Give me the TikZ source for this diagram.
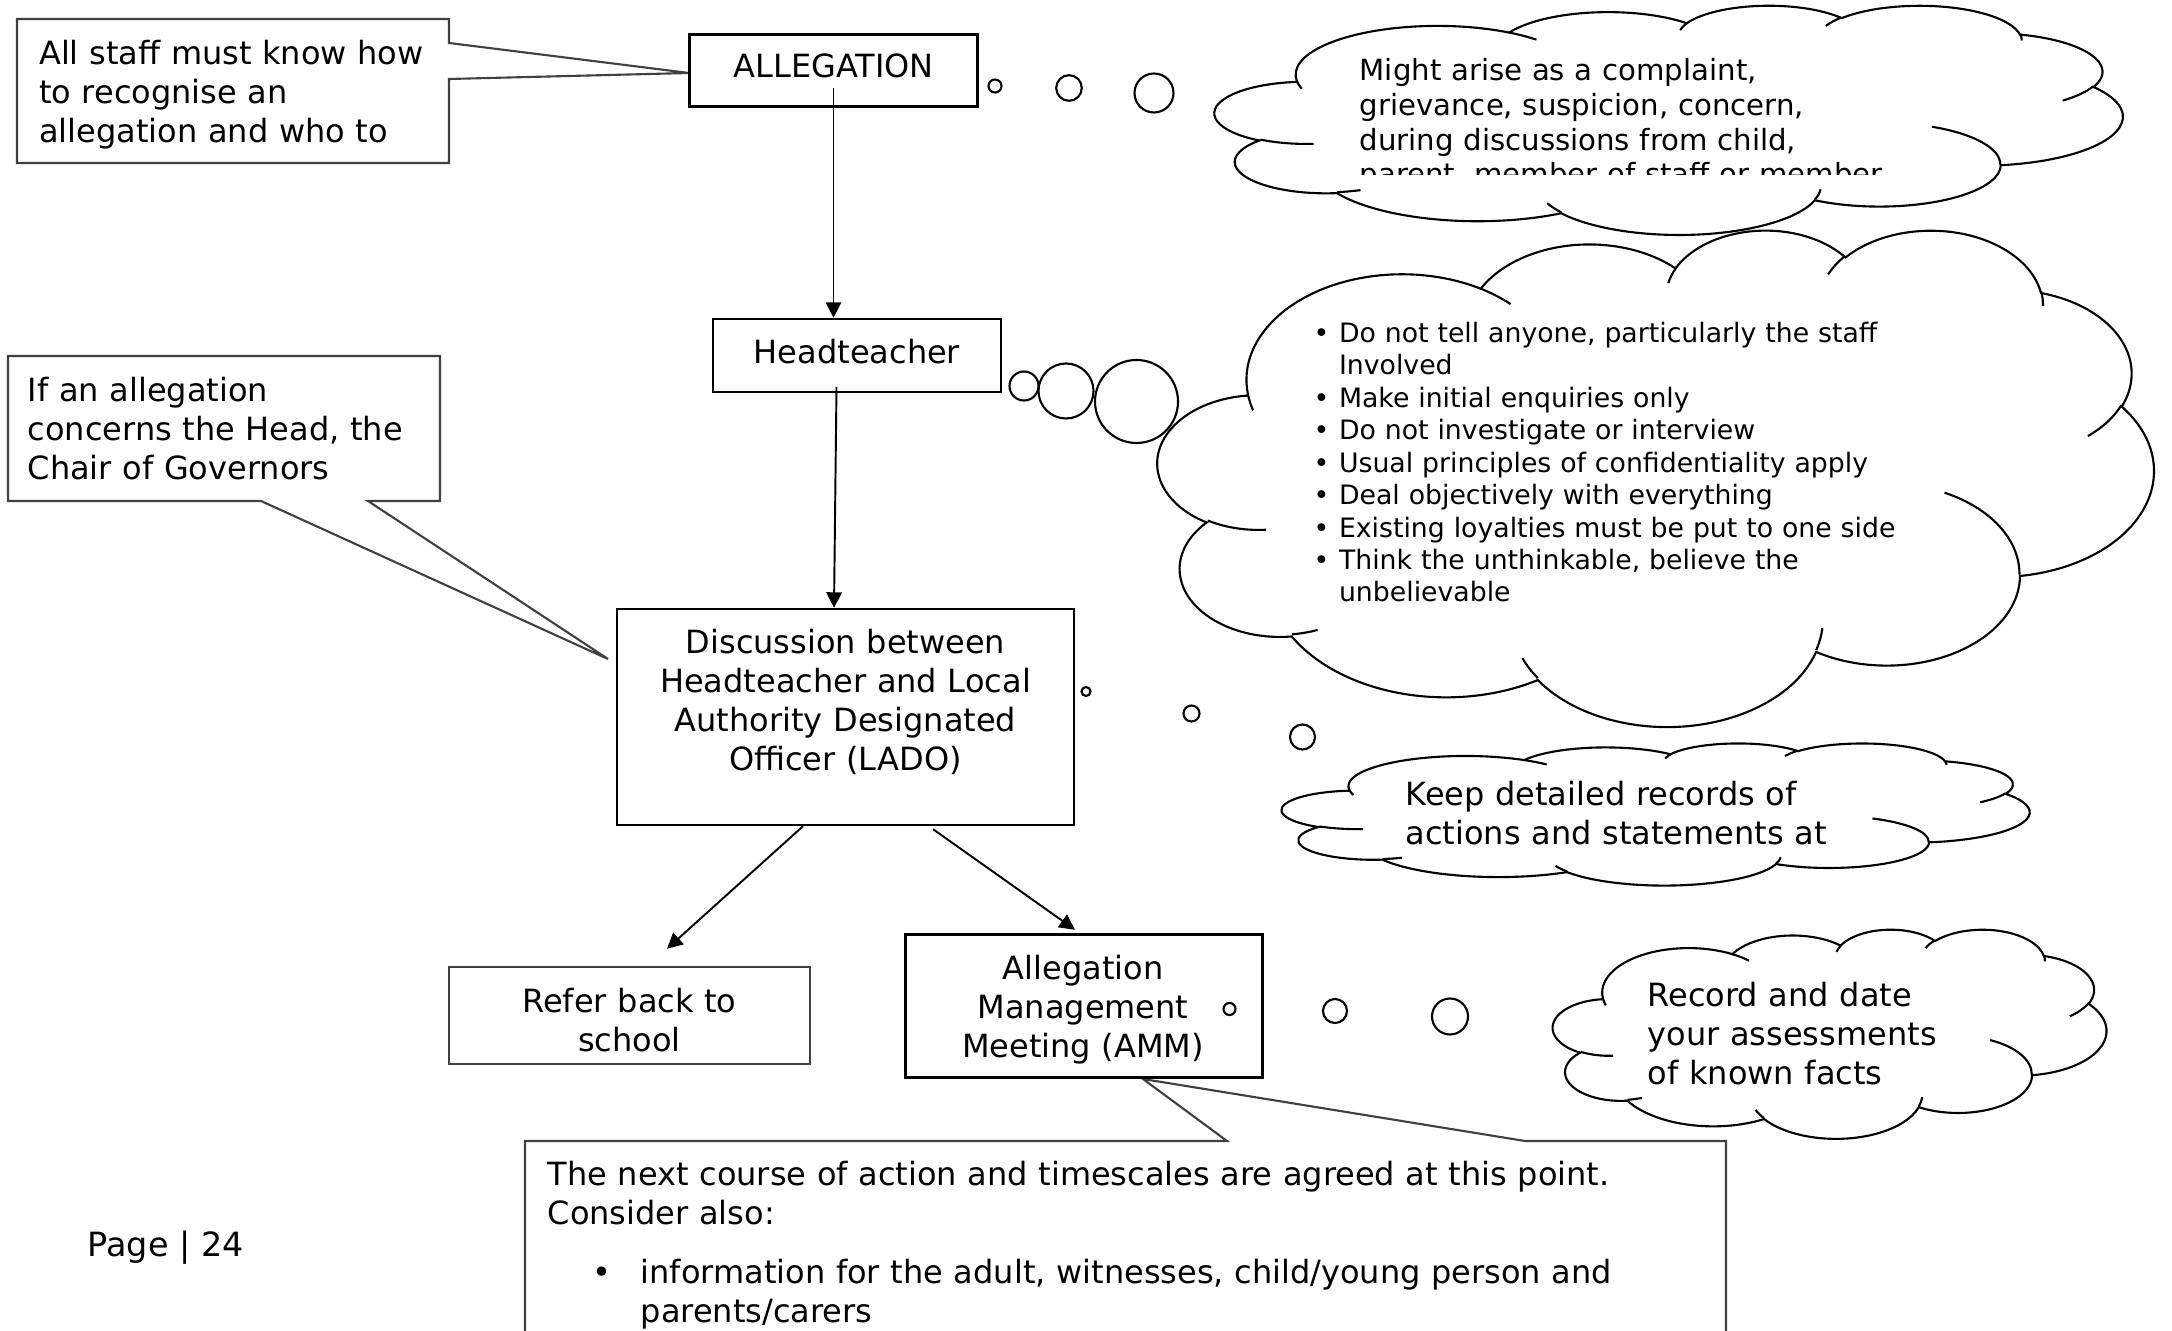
\documentclass[tikz,border=0pt]{standalone}
\usepackage{fontspec}
\setmainfont{DejaVu Sans}
\usetikzlibrary{arrows.meta,fit}
\definecolor{cgray}{RGB}{64,64,64}
\pgfmathdeclarefunction{vang}{3}{\pgfmathparse{atan2((#1)*sin(#3),(#2)*cos(#3))}}
\pgfmathdeclarefunction{vdel}{4}{\pgfmathparse{mod(vang(#1,#2,(#3)+(#4))-vang(#1,#2,#3)+720,360)}}
\newcommand\warc[4]{arc[x radius=#1,y radius=#2,start angle={vang(#1,#2,#3)},delta angle={vdel(#1,#2,#3,#4)}]}
\newcommand\wordcloud[4]{%
\begin{scope}[shift={(#1,#2)},x=#3,y=#4]
\draw[cloudline] (39.00,143.70)
 \warc{67.53}{91.90}{-190.48748}{123.78053}
 \warc{53.33}{72.67}{-144.10238}{89.94523}
 \warc{43.65}{59.45}{-145.80792}{99.72302}
 \warc{48.57}{65.95}{-130.98607}{117.24173}
 \warc{53.33}{72.73}{-78.70888}{109.02692}
 \warc{67.75}{92.20}{-46.26725}{130.269}
 \warc{57.85}{78.67}{0.62502}{114.03333}
 \warc{67.52}{92.15}{22.4516}{115.17255}
 \warc{77.20}{105.43}{66.24263}{75.71102}
 \warc{43.60}{59.18}{-274.94208}{146.73557}
 \warc{43.45}{59.45}{-246.8285}{152.51885} -- cycle;
\draw[cloudline]
 (46.93,261.77) \warc{43.45}{59.45}{86.742}{26.4295}
 (69.28,348.99) \warc{43.60}{59.18}{73.61047}{11.44747}
 (164.78,390.90) \warc{67.52}{92.15}{137.62415}{14.0811}
 (288.27,347.51) \warc{67.52}{92.15}{6.45327}{15.99835}
 (341.29,229.54) \warc{57.85}{78.67}{-70.29235}{70.91737}
 (417.98,153.54) \warc{53.33}{72.73}{30.31803}{27.7515}
 (383.24,54.26) \warc{48.57}{65.95}{-13.74433}{14.8589}
 (290.78,39.52) \warc{48.57}{65.95}{-149.18145}{18.19537}
 (221.41,47.20) \warc{43.65}{59.45}{-163.49427}{17.68635}
 (140.00,51.92) \warc{67.53}{91.90}{-66.70695}{12.31935}
 (41.27,157.89) \warc{67.53}{91.90}{157.65435}{11.85817};
\end{scope}}
\newcommand\bul{\makebox[7.2pt][l]{•}}
\newcommand\ind{\hspace*{7.2pt}}
\begin{document}
\begin{tikzpicture}[x=0.01cm,y=-0.01cm,
  box/.style={draw=black,line width=0.7pt,inner sep=0pt},
  gbox/.style={draw=cgray,line width=0.7pt,inner sep=0pt},
  callout/.style={draw=cgray,line width=0.6pt,line join=miter},
  cloudline/.style={draw=black,line width=0.6pt},
  bubble/.style={draw=black,line width=0.6pt},
  arr/.style={draw=black,line width=0.55pt,-{Triangle[length=4.4pt,width=4.4pt]}},
  txt/.style={inner sep=0pt,font=\fontsize{9.1}{11.04}\selectfont},
  tl/.style={txt,anchor=base west,align=left,text width=#1},
  tc/.style={txt,anchor=base,align=center,text width=#1}]
\useasboundingbox (0,0) rectangle (2172,1331);
\clip (0,0) rectangle (2172,1331);

% callouts
\draw[callout] (17,19) -- (449,19) -- (449,43) -- (689,73) -- (449,79) -- (449,163) -- (17,163) -- cycle;
\draw[callout] (8,356) -- (440,356) -- (440,501) -- (368,501) -- (608,659) -- (261,501) -- (8,501) -- cycle;
\draw[callout] (525,1345) -- (525,1141) -- (1227,1141) -- (1143,1079) -- (1525,1141) -- (1726,1141) -- (1726,1345);

% boxes
\node[box,fit={(689.5,34.5) (977.5,106.5)}] (alleg) {};
\node[box,fit={(713,319) (1001,392)}] (head) {};
\node[box,fit={(617,609) (1074,825)}] (lado) {};
\node[gbox,fit={(449,967) (810,1064)}] (refer) {};
\node[box,fit={(905.5,934.5) (1262.5,1077.5)}] (amm) {};

% connectors
\coordinate (a1) at (833.5,88);
\coordinate (h1) at (836.5,387);
\draw[arr] (a1) -- (a1 |- head.north);
\draw[arr] (h1) -- ([xshift=-3.27pt]lado.north);
\draw[arr] ([xshift=-12.09pt]lado.south) -- ([xshift=10.67pt,yshift=4.84pt]refer.north);
\draw[arr] ([xshift=24.9pt,yshift=-0.85pt]lado.south) -- ([xshift=-2.56pt,yshift=1pt]amm.north);

% box texts
\node[tl=130pt] (tA) at (38.5,65) {All staff must know how\\to recognise an\\allegation and who to};
\node[txt,anchor=base] (tAlleg) at (833.5,77.5) {ALLEGATION};
\node[txt,anchor=base] (tHead) at (857,363.5) {Headteacher};
\node[tl=130pt] (tB) at (27,401.5) {If an allegation\\concerns the Head, the\\Chair of Governors};
\node[tc=140pt] (tLado) at (845.5,654) {Discussion between\\Headteacher and Local\\Authority Designated\\Officer (LADO)};
\node[tc=100pt] (tRefer) at (629.5,1012.5) {Refer back to\\school};
\node[tc=100pt] (tAmm) at (1083,979.5) {Allegation\\Management\\Meeting (AMM)};
\node[tl=330pt] (tC1) at (547,1185.5) {The next course of action and timescales are agreed at this point.\\Consider also:};
\node[txt,anchor=base west] (tCb) at (592,1283.5) {•};
\node[tl=300pt] (tC2) at (640,1283.5) {information for the adult, witnesses, child/young person and\\parents/carers};
\node[txt,anchor=base west,font=\fontsize{9.5}{11.04}\selectfont] (page) at (87,1256) {Page | 24};

% thought bubbles
\draw[bubble] (995,86) circle[radius=6.5];
\draw[bubble] (1069,88) circle[radius=12.8];
\draw[bubble] (1154,93) circle[radius=19.5];
\draw[bubble] (1024,386) circle[radius=14.5];
\draw[bubble] (1066,391) circle[radius=27.5];
\draw[bubble] (1136.5,401.5) circle[radius=41.5];
\draw[bubble] (1086,691.5) circle[radius=4.5];
\draw[bubble] (1191.5,713.5) circle[radius=8];
\draw[bubble] (1302.5,737) circle[radius=12.5];
\draw[bubble] (1229.5,1009) circle[radius=6];
\draw[bubble] (1335,1011) circle[radius=12];
\draw[bubble] (1450,1016.5) circle[radius=18];

% clouds
\wordcloud{1215}{5}{0.59738pt}{-0.150826pt}
\wordcloud{1158}{229}{0.65534pt}{-0.326681pt}
\wordcloud{1282}{743}{0.491996pt}{-0.093526pt}
\wordcloud{1553}{929}{0.364222pt}{-0.137654pt}

% cloud texts
\begin{scope}
\clip (1200,0) rectangle (2172,175);
\node[tl=170pt,font=\fontsize{8.3}{9.82}\selectfont] (tK1) at (1359,81) {Might arise as a complaint,\\grievance, suspicion, concern,\\during discussions from child,\\parent, member of staff or member};
\end{scope}
\node[tl=190pt,font=\fontsize{7.6}{9.22}\selectfont] (tK2) at (1313,342.5) {\bul Do not tell anyone, particularly the staff\\\ind Involved\\\bul Make initial enquiries only\\\bul Do not investigate or interview\\\bul Usual principles of confidentiality apply\\\bul Deal objectively with everything\\\bul Existing loyalties must be put to one side\\\bul Think the unthinkable, believe the\\\ind unbelievable};
\node[tl=130pt] (tK3) at (1405,806) {Keep detailed records of\\actions and statements at};
\node[tl=100pt] (tK4) at (1647,1007) {Record and date\\your assessments\\of known facts};
\end{tikzpicture}
\end{document}
